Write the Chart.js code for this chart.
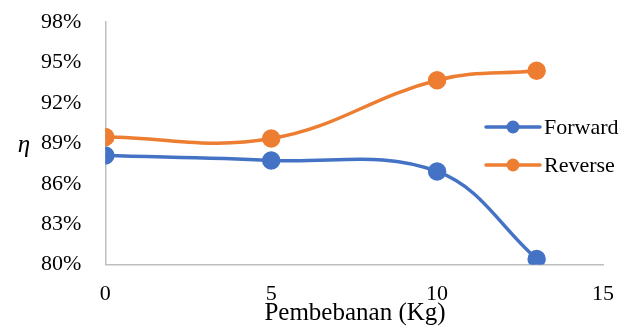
<!DOCTYPE html>
<html>
<head>
<meta charset="utf-8">
<script src="https://cdn.jsdelivr.net/npm/chart.js@4"></script>
<style>
html,body{margin:0;padding:0;background:#fff;}
#wrap{width:624px;height:327px;position:relative;}
</style>
</head>
<body>
<div id="wrap"><canvas id="c" width="624" height="327"></canvas></div>
<script>
const loads = [0, 5, 10, 13];
const forwardEff = [88.1, 87.73, 86.91, 80.42];
const reverseEff = [89.47, 89.35, 93.68, 94.38];
const seriesNames = ['Forward', 'Reverse'];
const xTitle = 'Pembebanan (Kg)';
const yTitle = 'η';

const FONT = "'Liberation Serif', 'Times New Roman', serif";
const colors = ['#4472C4', '#ED7D31'];

const annotPlugin = {
  id: 'annot',
  afterDraw(chart) {
    const ctx = chart.ctx;
    ctx.save();
    // legend
    const x0 = 486, x1 = 540, tx = 544;
    const ys = [127, 165];
    chart.data.datasets.forEach((ds, i) => {
      const y = ys[i];
      ctx.strokeStyle = ds.borderColor;
      ctx.lineWidth = 3.5;
      ctx.lineCap = 'round';
      ctx.beginPath(); ctx.moveTo(x0, y); ctx.lineTo(x1, y); ctx.stroke();
      ctx.fillStyle = ds.backgroundColor;
      ctx.beginPath(); ctx.arc((x0 + x1) / 2, y, 6.5, 0, Math.PI * 2); ctx.fill();
      ctx.fillStyle = '#000';
      ctx.font = '22px ' + FONT;
      ctx.textBaseline = 'middle';
      ctx.textAlign = 'left';
      ctx.fillText(ds.label, tx, y + 1);
    });
    // x title
    ctx.fillStyle = '#000';
    ctx.font = '25px ' + FONT;
    ctx.textAlign = 'center';
    ctx.textBaseline = 'alphabetic';
    ctx.fillText(xTitle, 355, 320);
    // y title (upright)
    ctx.font = 'italic 25px ' + FONT;
    ctx.textAlign = 'center';
    ctx.textBaseline = 'middle';
    ctx.fillText(yTitle, 24, 145);
    ctx.restore();
  }
};

new Chart(document.getElementById('c'), {
  type: 'line',
  data: {
    datasets: [
      { label: seriesNames[0], data: loads.map((x, i) => ({x, y: forwardEff[i]})),
        borderColor: colors[0], backgroundColor: colors[0], borderWidth: 3.5,
        pointRadius: 7.5, pointHoverRadius: 7.5, tension: 0.38 },
      { label: seriesNames[1], data: loads.map((x, i) => ({x, y: reverseEff[i]})),
        borderColor: colors[1], backgroundColor: colors[1], borderWidth: 3.5,
        pointRadius: 7.5, pointHoverRadius: 7.5, tension: 0.4 }
    ]
  },
  options: {
    responsive: false,
    animation: false,
    devicePixelRatio: 1,
    layout: { padding: { left: 17, right: 21, top: 22, bottom: 4 } },
    plugins: { legend: { display: false }, tooltip: { enabled: false } },
    scales: {
      x: {
        type: 'linear', min: 0, max: 15,
        ticks: { stepSize: 5, color: '#000', font: { family: FONT, size: 22 }, padding: 16 },
        grid: { display: false, drawTicks: false },
        border: { display: true, color: '#BFBFBF', width: 1.5 },
        title: { display: false },
        afterFit: s => { s.paddingLeft = 0; s.paddingRight = 0; }
      },
      y: {
        min: 80, max: 98,
        ticks: { stepSize: 3, color: '#000', font: { family: FONT, size: 22 }, padding: 24,
                 callback: v => v + '%' },
        grid: { display: false, drawTicks: false },
        border: { display: true, color: '#BFBFBF', width: 1.5 },
        title: { display: false },
        afterFit: s => { s.paddingTop = 0; s.paddingBottom = 0; }
      }
    }
  },
  plugins: [annotPlugin]
});
</script>
</body>
</html>
